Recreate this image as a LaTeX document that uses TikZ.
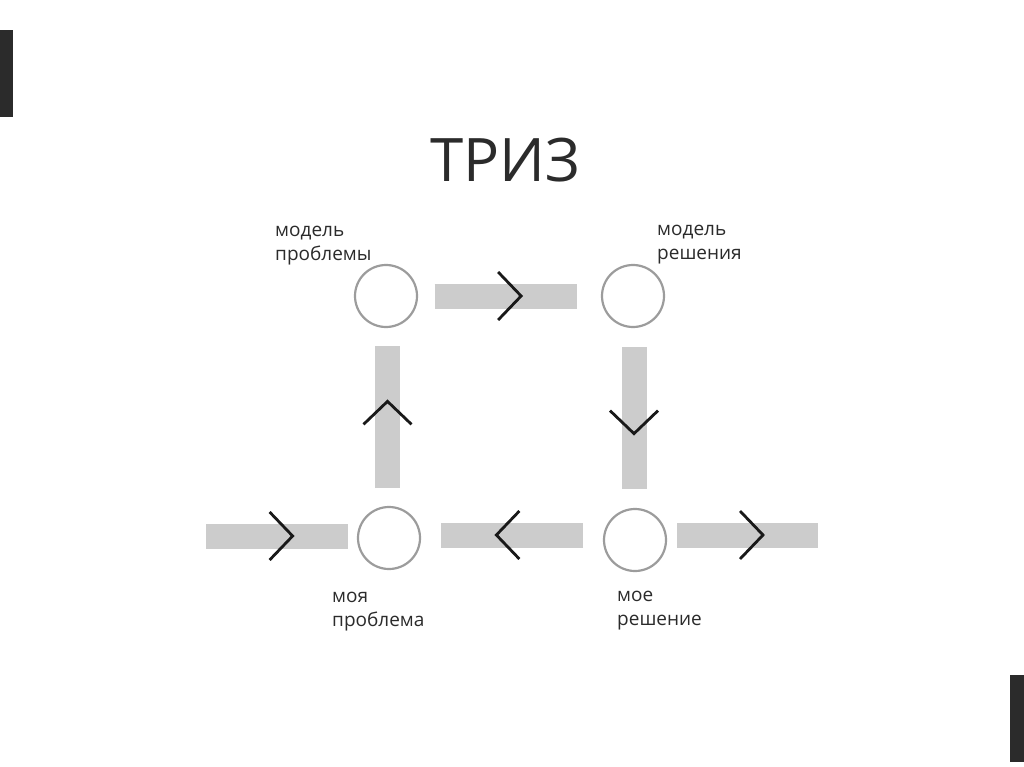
\documentclass[tikz,border=0pt]{standalone}
\usepackage{fontspec}
\setmainfont{Open Sans}
\usetikzlibrary{positioning, calc, decorations.markings}

\definecolor{barc}{HTML}{CCCCCC}
\definecolor{ringc}{HTML}{9C9C9C}
\definecolor{inkc}{HTML}{2B2B2B}

\tikzset{
  ring/.style={circle, draw=ringc, line width=2.2pt, fill=white, minimum size=62pt, inner sep=0pt},
  chev/.style={draw=black!90, line width=2.8pt, line cap=butt, line join=miter},
  flow/.style={draw=barc, line width=25pt,
    postaction={decorate},
    decoration={markings, mark=at position .61 with {\draw[chev] (-23pt,24pt) -- (0pt,0pt) -- (-23pt,-24pt);}}},
  lbl/.style={font=\fontsize{19}{24}\selectfont, text=inkc, align=left, inner sep=0pt, anchor=base west},
}

\begin{document}
\begin{tikzpicture}[x=1pt, y=-1pt]
  \useasboundingbox (0,0) rectangle (1024,767);
  \fill[white] (0,0) rectangle (1024,767);
  % slide edge marks
  \fill[inkc] (0,30) rectangle (13,117);
  \fill[inkc] (1010,675) rectangle (1024,762);

  \node[font=\fontsize{60}{64}\selectfont, text=inkc, anchor=base] (title) at (505,182) {ТРИЗ};

  % the four states
  \node[ring] (mp) at (386,296) {};
  \node[ring] (mr) at (633,296) {};
  \node[ring] (my) at (389,538) {};
  \node[ring] (ms) at (635,540) {};

  \node[lbl] (lmp) at ([shift={(-111,-36)}]mp.center) {модель\\проблемы};
  \node[lbl] (lmr) at ([shift={(24,-37)}]mr.center) {модель\\решения};
  \node[lbl] (lmy) at ([shift={(-57,88)}]my.center) {моя\\проблема};
  \node[lbl] (lms) at ([shift={(-18,85)}]ms.center) {мое\\решение};

  % flows
  \coordinate (in) at ([shift={(-183,-2)}]my.center);
  \coordinate (out) at ([shift={(183,-5)}]ms.center);
  \coordinate (m1) at ($(my)!.5!(mp)$);
  \coordinate (m2) at ($(mp)!.5!(mr)+(-4,0)$);
  \coordinate (m3) at ($(mr)!.5!(ms)$);
  \coordinate (m4) at ($(ms)!.5!(my)+(0,-4)$);

  \draw[flow] (in) -- ++(142,0);
  \draw[flow] ($(m1)+(0,71)$) -- ($(m1)+(0,-71)$);
  \draw[flow] ($(m2)+(-71,0)$) -- ($(m2)+(71,0)$);
  \draw[flow] ($(m3)+(0,-71)$) -- ($(m3)+(0,71)$);
  \draw[flow] ($(m4)+(71,0)$) -- ($(m4)+(-71,0)$);
  \draw[flow] ($(out)+(-141,0)$) -- (out);
\end{tikzpicture}
\end{document}
